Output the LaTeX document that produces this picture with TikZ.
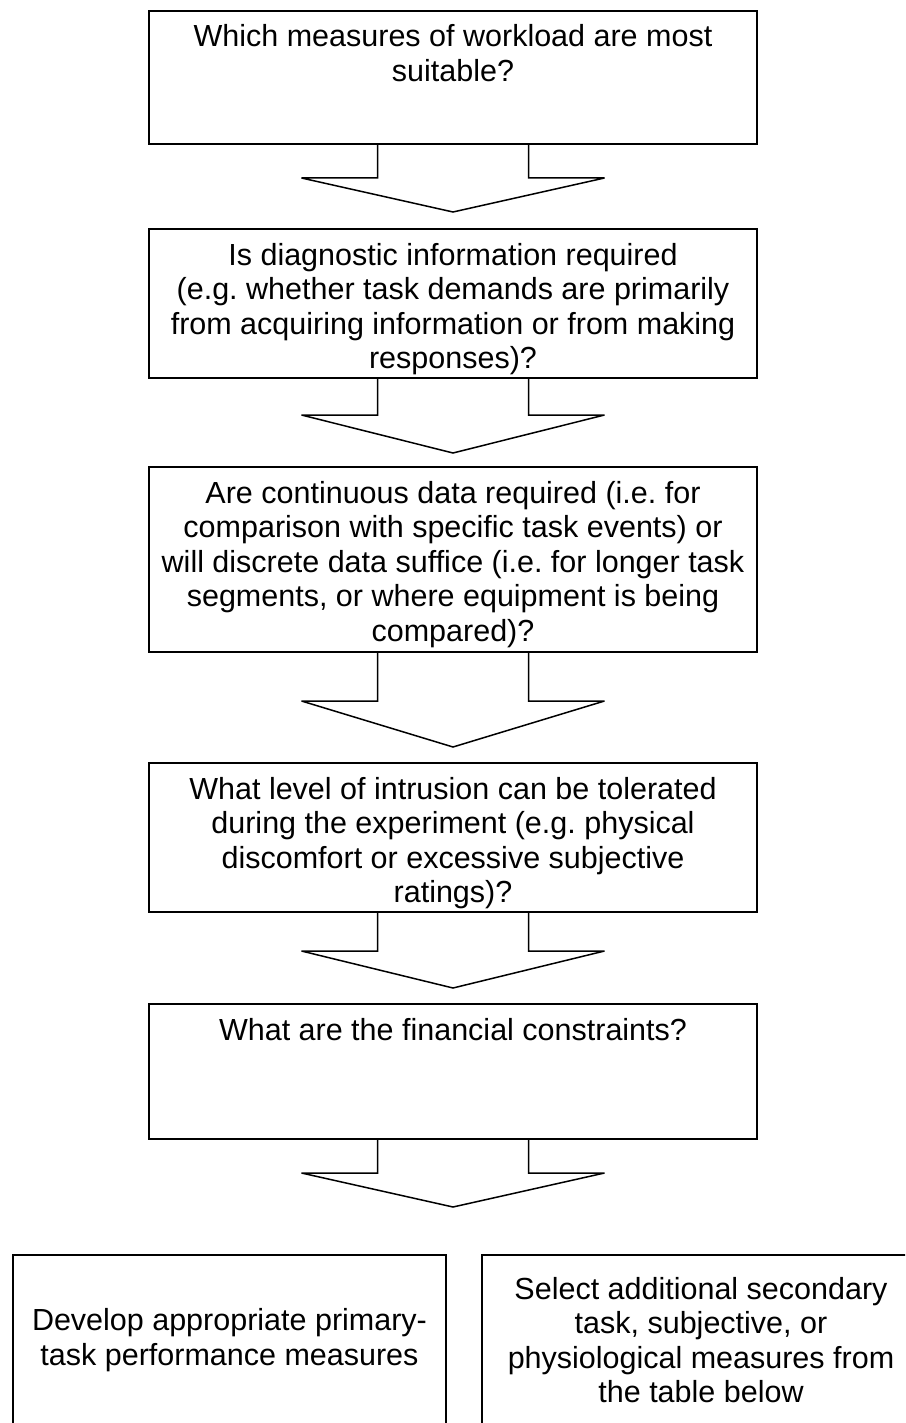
\documentclass[tikz,border=0pt]{standalone}
\usepackage{fontspec}
\setmainfont{Liberation Sans}
\usetikzlibrary{calc}
\frenchspacing
\newcommand\qfont{\fontsize{30.5pt}{34.5pt}\selectfont\frenchspacing}
\newcommand\topbox[3]{\parbox[c][#1][t]{#2}{\centering\rule{0pt}{36pt}#3}}
\newcommand\midbox[3]{\parbox[c][#1][c]{#2}{\centering #3}}
\newcommand\blockarrow[3]{\draw[blk] ($(#1.south)+(-75.5,0)$) -- ++(0,#3) -- ++(-76,0) -- (#2) -- ($(#1.south)+(151.5,#3)$) -- ++(-76,0) -- ++(0,-#3);}
\begin{document}
\begin{tikzpicture}[x=1pt,y=-1pt,
  qbox/.style={draw, line width=1.6pt, inner sep=0pt, outer sep=0pt, anchor=north west, font=\qfont},
  blk/.style={draw, line width=1.5pt, line join=miter, miter limit=3}]
\clip (0,0) rectangle (905,1423);
\fill[white] (0,0) rectangle (905,1423);

\node[qbox] (b1) at (149,11) {\topbox{133pt}{608pt}{Which measures of workload are most\\ suitable?}};
\node[qbox] (b2) at (149,229) {\topbox{149pt}{608pt}{Is diagnostic information required\\ (e.g. whether task demands are primarily\\ from acquiring information or from making\\ responses)?}};
\node[qbox] (b3) at (149,467) {\topbox{185pt}{608pt}{Are continuous data required (i.e. for\\ comparison with specific task events) or\\ will discrete data suffice (i.e. for longer task\\ segments, or where equipment is being\\ compared)?}};
\node[qbox] (b4) at (149,763) {\topbox{149pt}{608pt}{What level of intrusion can be tolerated\\ during the experiment (e.g. physical\\ discomfort or excessive subjective\\ ratings)?}};
\node[qbox] (b5) at (149,1004) {\topbox{135pt}{608pt}{What are the financial constraints?}};
\node[qbox] (L) at (13,1255) {\midbox{170pt}{433pt}{Develop appropriate primary-\\ task performance measures}};
\node[qbox] (R) at (482,1255) {\midbox{170pt}{438pt}{Select additional secondary\\ task, subjective, or\\ physiological measures from\\ the table below}};

\coordinate (t1) at (453,212);
\coordinate (t2) at (453,453);
\coordinate (t3) at (453,747);
\coordinate (t4) at (453,988);
\coordinate (t5) at (453,1207);

\blockarrow{b1}{t1}{34}
\blockarrow{b2}{t2}{37}
\blockarrow{b3}{t3}{49}
\blockarrow{b4}{t4}{39}
\blockarrow{b5}{t5}{34}
\end{tikzpicture}
\end{document}
